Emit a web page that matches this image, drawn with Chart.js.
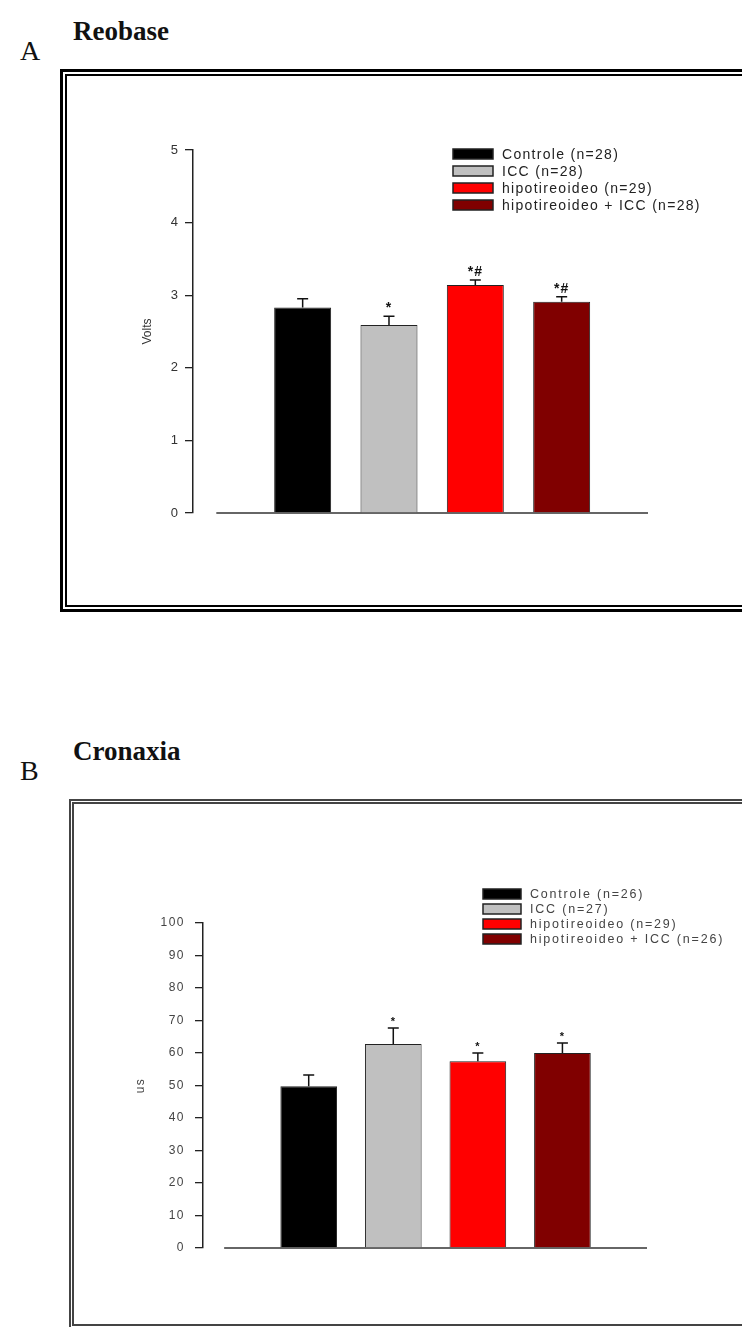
<!DOCTYPE html>
<html>
<head>
<meta charset="utf-8">
<script src="https://cdn.jsdelivr.net/npm/chart.js@4.4.1/dist/chart.umd.min.js"></script>
<style>
  body { margin: 0; background: #fff; width: 742px; height: 1327px; overflow: hidden; position: relative; font-family: "Liberation Serif", "Times New Roman", serif; }
  .letter { position: absolute; font-size: 28px; line-height: 1; color: #111; }
  .title { position: absolute; font-size: 27px; font-weight: bold; line-height: 1; color: #111; }
  .frameA { position: absolute; left: 60px; top: 69px; width: 720px; height: 543px; border: 3px solid #000; box-sizing: border-box; }
  .frameA .inner { position: absolute; left: 2px; top: 2px; right: 2px; bottom: 2px; border: 2px solid #000; }
  .frameB { position: absolute; left: 69px; top: 799px; width: 720px; height: 530px; border: 5px double #444; box-sizing: border-box; }
  canvas { position: absolute; left: 0; }
</style>
</head>
<body>
<div class="letter" style="left:20px;top:37px">A</div>
<div class="title" style="left:73px;top:18px">Reobase</div>
<div class="frameA"><div class="inner"></div></div>
<canvas id="chartA" width="742" height="620" style="top:0"></canvas>

<div class="letter" style="left:20px;top:757px">B</div>
<div class="title" style="left:73px;top:738px">Cronaxia</div>
<div class="frameB"></div>
<canvas id="chartB" width="742" height="627" style="top:700px"></canvas>

<script>
// painel A - reobase
const gruposA = ['Controle (n=28)', 'ICC (n=28)', 'hipotireoideo (n=29)', 'hipotireoideo + ICC (n=28)']
const reobaseMedia = [2.83, 2.59, 3.14, 2.91]
const reobaseErro = [0.12, 0.12, 0.07, 0.07]
const reobaseSig = ['', '*', '*#', '*#']
const reobaseTicks = [0, 1, 2, 3, 4, 5]

// painel B - cronaxia
const gruposB = ['Controle (n=26)', 'ICC (n=27)', 'hipotireoideo (n=29)', 'hipotireoideo + ICC (n=26)']
const cronaxiaMedia = [49.8, 62.8, 57.5, 60.0]
const cronaxiaErro = [3.4, 4.9, 2.5, 3.1]
const cronaxiaSig = ['', '*', '*', '*']
const cronaxiaTicks = [0, 10, 20, 30, 40, 50, 60, 70, 80, 90, 100]

const coresBarras = ['#000000', '#c0c0c0', '#ff0000', '#800000']
const fonteSans = 'Liberation Sans, Arial, sans-serif'

const espacoLetras = {
    id: 'espacoLetras',
    beforeDraw(chart, args, opts) {
        chart.ctx.letterSpacing = opts.spacing || '0px'
    }
}

const linhaBase = {
    id: 'linhaBase',
    beforeDatasetsDraw(chart, args, opts) {
        const { ctx, scales: { x, y } } = chart
        const py = y.getPixelForValue(0)
        ctx.save()
        ctx.strokeStyle = opts.color
        ctx.lineWidth = opts.width
        ctx.beginPath()
        ctx.moveTo(x.getPixelForValue(opts.from), py)
        ctx.lineTo(x.getPixelForValue(x.max), py)
        ctx.stroke()
        ctx.restore()
    }
}

const barrasErro = {
    id: 'barrasErro',
    afterDatasetsDraw(chart, args, opts) {
        const { ctx, scales: { y } } = chart
        const meta = chart.getDatasetMeta(0)
        ctx.save()
        ctx.strokeStyle = opts.color
        ctx.lineWidth = opts.lineWidth
        meta.data.forEach((bar, i) => {
            const topo = y.getPixelForValue(opts.medias[i] + opts.erros[i])
            ctx.beginPath()
            ctx.moveTo(bar.x, bar.y)
            ctx.lineTo(bar.x, topo)
            ctx.moveTo(bar.x - opts.cap, topo)
            ctx.lineTo(bar.x + opts.cap, topo)
            ctx.stroke()
            if (opts.marcas[i]) {
                ctx.font = opts.font
                ctx.fillStyle = opts.color
                ctx.textAlign = 'center'
                ctx.textBaseline = 'alphabetic'
                ctx.letterSpacing = opts.markSpacing
                ctx.fillText(opts.marcas[i], bar.x, topo - opts.gap)
            }
        })
        ctx.restore()
    }
}

const legendaCaixa = {
    id: 'legendaCaixa',
    afterDraw(chart, args, opts) {
        const { ctx } = chart
        const cores = chart.data.datasets[0].backgroundColor
        ctx.save()
        ctx.font = opts.font
        ctx.letterSpacing = opts.spacing
        ctx.textBaseline = 'middle'
        ctx.textAlign = 'left'
        chart.data.labels.forEach((label, i) => {
            const cy = opts.y + i * opts.row
            ctx.fillStyle = cores[i]
            ctx.fillRect(opts.x, cy - opts.boxH / 2, opts.boxW, opts.boxH)
            ctx.strokeStyle = '#222'
            ctx.lineWidth = 1.5
            ctx.strokeRect(opts.x, cy - opts.boxH / 2, opts.boxW, opts.boxH)
            ctx.fillStyle = opts.color
            ctx.fillText(label, opts.textX, cy + 1)
        })
        ctx.restore()
    }
}

const criarGrafico = (id, cfg) => {
    return new Chart(document.getElementById(id), {
        type: 'bar',
        data: {
            labels: cfg.grupos,
            datasets: [{
                data: cfg.medias.map((v, i) => ({ x: i, y: v })),
                backgroundColor: coresBarras,
                borderColor: '#222',
                borderWidth: 1,
                barPercentage: cfg.barPct,
                categoryPercentage: 1
            }]
        },
        options: {
            responsive: false,
            animation: false,
            events: [],
            layout: { padding: cfg.padding },
            scales: {
                x: { type: 'linear', min: cfg.xMin, max: 4, offset: false, display: false },
                y: {
                    min: 0,
                    max: cfg.ticks[cfg.ticks.length - 1],
                    afterFit: s => { s.width = cfg.yWidth },
                    afterBuildTicks: s => { s.ticks = cfg.ticks.map(v => ({ value: v })) },
                    ticks: { color: cfg.textColor, font: { family: fonteSans, size: cfg.tickSize }, padding: cfg.tickPad },
                    grid: { drawOnChartArea: false, drawTicks: true, tickLength: 8, color: '#222', lineWidth: 1.3 },
                    border: { color: '#222', width: 1.5 },
                    title: { display: true, text: cfg.yTitle, color: cfg.textColor, font: { family: fonteSans, size: 12 }, padding: 0 }
                }
            },
            plugins: {
                legend: { display: false },
                tooltip: { enabled: false },
                espacoLetras: { spacing: cfg.tickSpacing },
                linhaBase: { from: -1, color: '#333', width: 1.5 },
                barrasErro: {
                    medias: cfg.medias, erros: cfg.erros, marcas: cfg.marcas,
                    cap: 5.5, lineWidth: 1.5, color: '#111',
                    font: cfg.markFont, gap: cfg.markGap, markSpacing: '1px'
                },
                legendaCaixa: cfg.legenda
            }
        },
        plugins: [espacoLetras, linhaBase, barrasErro, legendaCaixa]
    })
}

criarGrafico('chartA', {
    grupos: gruposA, medias: reobaseMedia, erros: reobaseErro, marcas: reobaseSig, ticks: reobaseTicks,
    barPct: 0.66, xMin: -1.27, yWidth: 53, yTitle: 'Volts',
    padding: { left: 140, top: 150, right: 94, bottom: 107 },
    textColor: '#333', tickSize: 13, tickPad: 7, tickSpacing: '0px',
    markFont: 'bold 14px ' + fonteSans, markGap: 4,
    legenda: { x: 453, y: 154, row: 17, boxW: 40, boxH: 10, textX: 502, font: '14px ' + fonteSans, spacing: '1.3px', color: '#222' }
})

criarGrafico('chartB', {
    grupos: gruposB, medias: cronaxiaMedia, erros: cronaxiaErro, marcas: cronaxiaSig, ticks: cronaxiaTicks,
    barPct: 0.67, xMin: -1.25, yWidth: 70, yTitle: 'us',
    padding: { left: 133, top: 223, right: 95, bottom: 79 },
    textColor: '#444', tickSize: 12, tickPad: 10, tickSpacing: '1.5px',
    markFont: 'bold 11px ' + fonteSans, markGap: 3,
    legenda: { x: 483, y: 194, row: 15, boxW: 38, boxH: 10, textX: 530, font: '12.5px ' + fonteSans, spacing: '1.8px', color: '#444' }
})
</script>
</body>
</html>
